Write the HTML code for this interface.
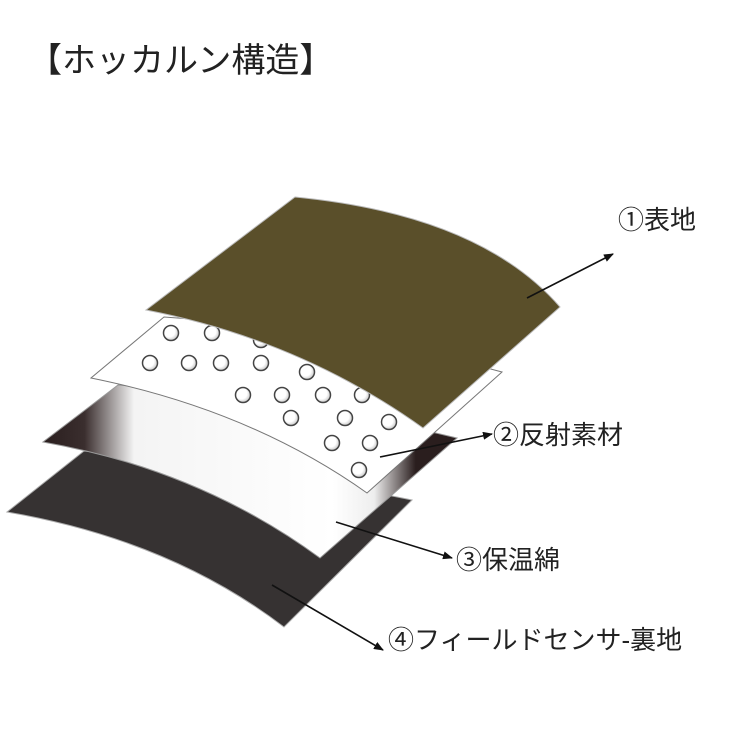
<!DOCTYPE html>
<html><head><meta charset="utf-8"><style>
body{margin:0;background:#fff;width:750px;height:750px;overflow:hidden}
svg{display:block}
text{font-family:"Liberation Sans","Noto Sans CJK JP",sans-serif;fill:#222}
</style></head><body>
<svg width="750" height="750" viewBox="0 0 750 750">
<defs>
<linearGradient id="g" x1="43" y1="0" x2="457" y2="0" gradientUnits="userSpaceOnUse">
<stop offset="0" stop-color="#2a1e1e"/><stop offset="0.1" stop-color="#3a2e2e"/><stop offset="0.22" stop-color="#f4f4f4"/><stop offset="0.7" stop-color="#fff"/><stop offset="0.8" stop-color="#eee"/><stop offset="0.9" stop-color="#2a1e1e"/><stop offset="1" stop-color="#2a1e1e"/>
</linearGradient>
<radialGradient id="d" cx="0.4" cy="0.4" r="0.6"><stop offset="0.6" stop-color="#fff"/><stop offset="1" stop-color="#ccc"/></radialGradient>
<marker id="a" markerWidth="10" markerHeight="8" refX="9" refY="4" orient="auto" markerUnits="userSpaceOnUse"><path d="M0,0 L10,4 L0,8 Z" fill="#111"/></marker>
</defs>
<text x="28" y="72" font-size="34">【ホッカルン構造】</text>
<path d="M84,451 Q265,470 412,500 L284,627 Q170,540 7,512 Z" fill="#363232" stroke="#aaa" stroke-width="1"/>
<path d="M118,385 Q300,400 457,438 L320,558 Q200,470 43,442 Z" fill="url(#g)" stroke="#999" stroke-width="1"/>
<path d="M164,317 Q350,330 502,372 L367,493 Q250,410 91,378 Z" fill="#fff" stroke="#777" stroke-width="1"/>
<g fill="url(#d)" stroke="#444" stroke-width="1.5">
<circle cx="171" cy="333" r="7.5"/><circle cx="212" cy="333" r="7.5"/><circle cx="261" cy="340" r="7.5"/>
<circle cx="150" cy="363" r="7.5"/><circle cx="189" cy="363" r="7.5"/><circle cx="221" cy="363" r="7.5"/><circle cx="261" cy="363" r="7.5"/><circle cx="307" cy="372" r="7.5"/>
<circle cx="243" cy="395" r="7.5"/><circle cx="282" cy="395" r="7.5"/><circle cx="323" cy="395" r="7.5"/><circle cx="362" cy="395" r="7.5"/>
<circle cx="291" cy="418" r="7.5"/><circle cx="345" cy="418" r="7.5"/><circle cx="389" cy="422" r="7.5"/>
<circle cx="332" cy="443" r="7.5"/><circle cx="370" cy="443" r="7.5"/><circle cx="359" cy="470" r="7.5"/>
</g>
<path d="M295,197 Q480,215 560,307 L423,428 Q300,340 146,310 Z" fill="#5a4f2a" stroke="#bbb" stroke-width="1"/>
<g stroke="#111" stroke-width="1.6" fill="none">
<line x1="527" y1="298" x2="613" y2="254" marker-end="url(#a)"/>
<line x1="380" y1="457" x2="492" y2="434" marker-end="url(#a)"/>
<line x1="336" y1="522" x2="452" y2="558" marker-end="url(#a)"/>
<line x1="272" y1="585" x2="383" y2="650" marker-end="url(#a)"/>
</g>
<text x="618" y="229" font-size="26">①表地</text>
<text x="493" y="444" font-size="26">②反射素材</text>
<text x="456" y="569" font-size="26">③保温綿</text>
<text x="388" y="649" font-size="26">④フィールドセンサ-裏地</text>
</svg>
</body></html>
